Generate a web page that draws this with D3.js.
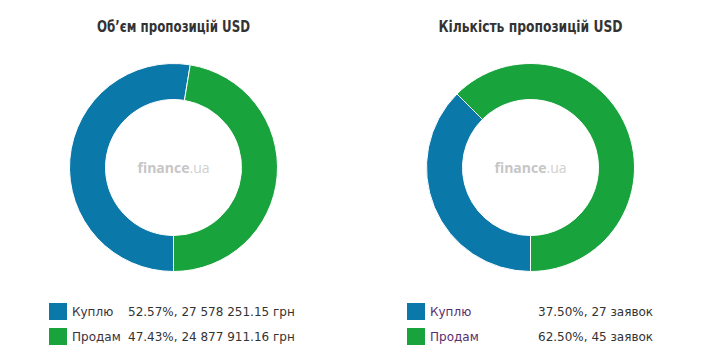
<!DOCTYPE html>
<html><head><meta charset="utf-8">
<script src="https://cdn.jsdelivr.net/npm/d3@7"></script>
<style>body{margin:0;background:#fff;}svg{display:block;}</style>
</head><body>
<svg id="c" width="720" height="360"></svg>
<script>
const categories = ["Куплю", "Продам"];
const colors = ["#0a78a8", "#19a33d"];
const titles = ["Об’єм пропозицій USD", "Кількість пропозицій USD"];
const volumeValues = [27578251.15, 24877911.16];
const volumePct = [52.57, 47.43];
const volumeLabels = ["52.57%, 27 578 251.15 грн", "47.43%, 24 877 911.16 грн"];
const countValues = [27, 45];
const countPct = [37.50, 62.50];
const countLabels = ["37.50%, 27 заявок", "62.50%, 45 заявок"];

const svg = d3.select("#c");
const charts = [
  {title: titles[0], titleW: 153, values: volumeValues, labels: volumeLabels, cx: 173.5, legendX: 49, valueX: 128, labelColor: "#3a3040"},
  {title: titles[1], titleW: 184, values: countValues, labels: countLabels, cx: 530.5, legendX: 407, valueX: 538, labelColor: "#5a2d6e"}
];
const pie = d3.pie().sort(null).startAngle(Math.PI).endAngle(3 * Math.PI);
const arc = d3.arc().innerRadius(68).outerRadius(104);

charts.forEach(ch => {
  const g = svg.append("g");
  g.append("text").attr("x", ch.cx).attr("y", 32).attr("text-anchor", "middle")
    .attr("font-family", "'DejaVu Sans Condensed', 'DejaVu Sans', sans-serif")
    .attr("font-weight", "bold").attr("font-size", 16).attr("fill", "#333")
    .attr("textLength", ch.titleW).attr("lengthAdjust", "spacingAndGlyphs")
    .text(ch.title);
  const d = g.append("g").attr("transform", `translate(${ch.cx},167.5)`);
  d.selectAll("path").data(pie(ch.values)).join("path")
    .attr("d", arc).attr("fill", (p, i) => colors[i])
    .attr("stroke", "#fff").attr("stroke-width", 1);
  const wm = d.append("text").attr("x", 0).attr("y", 5).attr("text-anchor", "middle")
    .attr("font-family", "'Open Sans', sans-serif").attr("font-size", 14);
  wm.append("tspan").attr("font-weight", "bold").attr("fill", "#c6c6c6").text("finance");
  wm.append("tspan").attr("fill", "#d0d0d0").text(".ua");

  categories.forEach((c, i) => {
    const y = 303 + i * 25;
    g.append("rect").attr("x", ch.legendX).attr("y", y).attr("width", 18).attr("height", 17)
      .attr("fill", colors[i]);
    g.append("text").attr("x", ch.legendX + 23).attr("y", y + 13)
      .attr("font-family", "'DejaVu Sans', Verdana, sans-serif").attr("font-size", 12)
      .attr("fill", ch.labelColor).text(c);
    g.append("text").attr("x", ch.valueX).attr("y", y + 13)
      .attr("font-family", "'DejaVu Sans', Verdana, sans-serif").attr("font-size", 12)
      .attr("fill", "#333").text(ch.labels[i]);
  });
});
</script>
</body></html>
